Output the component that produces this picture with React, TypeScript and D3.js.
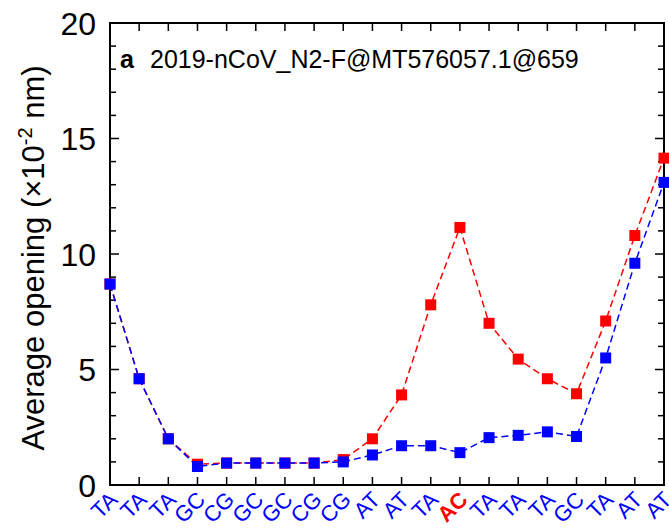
import React, { useEffect, useRef } from "react";
import * as d3 from "d3";

const pairs = ["TA", "TA", "TA", "GC", "CG", "GC", "GC", "CG", "CG", "AT", "AT", "TA", "AC", "TA", "TA", "TA", "GC", "TA", "AT", "AT"];
const highlight = 12;
const redValues = [8.7, 4.6, 2.0, 0.9, 0.95, 0.95, 0.95, 0.95, 1.1, 2.0, 3.9, 7.8, 11.15, 7.0, 5.45, 4.6, 3.95, 7.1, 10.8, 14.15];
const blueValues = [8.7, 4.6, 2.0, 0.8, 0.95, 0.95, 0.95, 0.95, 1.0, 1.3, 1.7, 1.7, 1.4, 2.05, 2.15, 2.3, 2.1, 5.5, 9.6, 13.1];
const yTicks = [0, 5, 10, 15, 20];
const title = "2019-nCoV_N2-F@MT576057.1@659";

export default function App() {
  const ref = useRef<SVGSVGElement>(null);

  useEffect(() => {
    document.body.style.margin = "0";
    document.body.style.overflow = "hidden";
    const svg = d3.select(ref.current);
    svg.selectAll("*").remove();

    const left = 110, right = 664, top = 23, bottom = 485;
    const font = "'Liberation Sans', Arial, sans-serif";

    const x = d3.scaleLinear().domain([0, pairs.length - 1]).range([left, right]);
    const y = d3.scaleLinear().domain([0, 20]).range([bottom, top]);

    // minor + major ticks on y, both sides
    const g = svg.append("g");
    d3.range(0, 21).forEach((v) => {
      const len = v % 5 === 0 ? 9 : 6;
      g.append("line").attr("x1", left).attr("x2", left + len).attr("y1", y(v)).attr("y2", y(v)).attr("stroke", "#000").attr("stroke-width", 1.5);
      g.append("line").attr("x1", right).attr("x2", right - len).attr("y1", y(v)).attr("y2", y(v)).attr("stroke", "#000").attr("stroke-width", 1.5);
    });
    pairs.forEach((_, i) => {
      g.append("line").attr("x1", x(i)).attr("x2", x(i)).attr("y1", bottom).attr("y2", bottom - 8).attr("stroke", "#000").attr("stroke-width", 1.5);
      g.append("line").attr("x1", x(i)).attr("x2", x(i)).attr("y1", top).attr("y2", top + 8).attr("stroke", "#000").attr("stroke-width", 1.5);
    });

    svg.append("rect").attr("x", left).attr("y", top).attr("width", right - left).attr("height", bottom - top)
      .attr("fill", "none").attr("stroke", "#000").attr("stroke-width", 2);

    svg.append("g").selectAll("text").data(yTicks).enter().append("text")
      .attr("x", 96).attr("y", (d) => y(d)).attr("dy", "0.36em").attr("text-anchor", "end")
      .attr("font-family", font).attr("font-size", 32).text((d) => d);

    svg.append("text").attr("transform", `translate(44, 258) rotate(-90)`)
      .attr("text-anchor", "middle").attr("font-family", font).attr("font-size", 31)
      .html("Average opening (×10<tspan dy='-12' font-size='20'>-2</tspan><tspan dy='12'> nm)</tspan>");

    svg.append("g").selectAll("text").data(pairs).enter().append("text")
      .attr("transform", (d, i) => `translate(${x(i) + 9}, ${501}) rotate(-45)`)
      .attr("text-anchor", "end").attr("font-family", font).attr("font-size", 22)
      .attr("fill", (d, i) => (i === highlight ? "#ff0000" : "#0000ff"))
      .attr("font-weight", (d, i) => (i === highlight ? "bold" : "normal"))
      .text((d) => d);

    const line = d3.line<number>().x((d, i) => x(i)).y((d) => y(d));
    [
      { values: redValues, color: "#ff0000" },
      { values: blueValues, color: "#0000ff" },
    ].forEach((s) => {
      svg.append("path").datum(s.values).attr("d", line).attr("fill", "none")
        .attr("stroke", s.color).attr("stroke-width", 1.5).attr("stroke-dasharray", "7,4");
      svg.append("g").selectAll("rect").data(s.values).enter().append("rect")
        .attr("x", (d, i) => x(i) - 5.5).attr("y", (d) => y(d) - 5.5)
        .attr("width", 11).attr("height", 11).attr("fill", s.color);
    });

    const ann = svg.append("text").attr("x", 120).attr("y", 68).attr("font-family", font).attr("font-size", 25);
    ann.append("tspan").attr("font-weight", "bold").text("a");
    ann.append("tspan").attr("x", 150).text(title);
  }, []);

  return (
    <div>
      <svg ref={ref} width={669} height={530} style={{ display: "block", background: "#fff" }}></svg>
    </div>
  );
}
